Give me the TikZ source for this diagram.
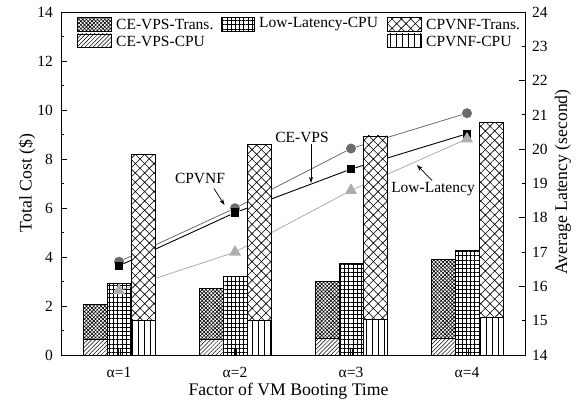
\documentclass[tikz,border=0pt]{standalone}
\usepackage{fontspec}
\setmainfont{Liberation Serif}
\usetikzlibrary{patterns.meta,arrows.meta,shapes.geometric}

\definecolor{circgray}{gray}{0.42}
\definecolor{trigray}{gray}{0.68}

\tikzset{
  txt/.style={font=\fontsize{15.5}{18}\selectfont, inner sep=0pt},
  title/.style={font=\fontsize{17.7}{20}\selectfont, inner sep=0pt},
  barline/.style={draw=black, line width=0.9pt},
  cevpstrans/.style={preaction={fill=white}, pattern={Hatch[angle=45,distance=2.6pt,line width=0.6pt]}},
  cevpscpu/.style={preaction={fill=white}, pattern={Lines[angle=45,distance=2.9pt,line width=0.5pt]}},
  llcpu/.style={preaction={fill=white}, pattern={Hatch[angle=0,distance=4.2pt,line width=0.5pt]}},
  cpvnftrans/.style={preaction={fill=white}, pattern={Hatch[angle=45,distance=6.6pt,line width=0.6pt]}},
  cpvnfcpu/.style={preaction={fill=white}, pattern={Lines[angle=90,distance=6pt,line width=0.6pt]}},
  circmark/.style={circle, fill=circgray, minimum size=10pt, inner sep=0pt},
  sqmark/.style={rectangle, fill=black, minimum size=8.5pt, inner sep=0pt},
  trimark/.style={regular polygon, regular polygon sides=3, fill=trigray, minimum size=14pt, inner sep=0pt},
  circline/.style={draw=circgray, line width=0.8pt},
  sqline/.style={draw=black, line width=0.9pt},
  triline/.style={draw=trigray, line width=0.8pt},
  annarrow/.style={draw=black, line width=0.7pt, -{Stealth[length=6pt,width=4pt]}},
  tickline/.style={draw=black, line width=0.8pt}
}

\begin{document}
\begin{tikzpicture}[x=1pt,y=-1pt]
\useasboundingbox (0,0) rectangle (581,411);

% stacked bars for CE-VPS and Low-Latency
\foreach \c/\a/\b/\l in {119/2.07/0.63/2.90, 235/2.72/0.64/3.22, 351/3.00/0.67/3.74, 467/3.90/0.69/4.27}{
  \draw[barline,cevpscpu] (\c-36,355) rectangle (\c-12,{355-24.5*\b});
  \draw[barline,cevpstrans] (\c-36,{355-24.5*\b}) rectangle (\c-12,{355-24.5*\a});
  \draw[barline,llcpu] (\c-12,355) rectangle (\c+12,{355-24.5*\l});
  \draw[line width=0.5pt] (\c-0.8,348) -- (\c-0.8,355) (\c+0.8,348) -- (\c+0.8,355);
}

% latency markers
\node[circmark] (ci1) at (119,{355-34.3*(16.72-14)}) {};
\node[circmark] (ci2) at (235,{355-34.3*(18.28-14)}) {};
\node[circmark] (ci3) at (351,{355-34.3*(20.02-14)}) {};
\node[circmark] (ci4) at (467,{355-34.3*(21.05-14)}) {};
\node[sqmark] (sq1) at (119,{355-34.3*(16.60-14)}) {};
\node[sqmark] (sq2) at (235,{355-34.3*(18.15-14)}) {};
\node[sqmark] (sq3) at (351,{355-34.3*(19.42-14)}) {};
\node[sqmark] (sq4) at (467,{355-34.3*(20.45-14)}) {};
\node[trimark] (tr1) at (119,{355-34.3*(15.88-14)}) {};
\node[trimark] (tr2) at (235,{355-34.3*(17.00-14)}) {};
\node[trimark] (tr3) at (351,{355-34.3*(18.80-14)}) {};
\node[trimark] (tr4) at (467,{355-34.3*(20.30-14)}) {};

% latency lines
\draw[circline] (ci1) -- (ci2) -- (ci3) -- (ci4);
\draw[sqline] (sq1) -- (sq2) -- (sq3) -- (sq4);
\draw[triline] (tr1) -- (tr2) -- (tr3) -- (tr4);

% CPVNF bars on top
\foreach \c/\t/\u in {119/8.20/1.39, 235/8.61/1.41, 351/8.94/1.47, 467/9.50/1.52}{
  \draw[barline,cpvnfcpu] (\c+12,355) rectangle (\c+36,{355-24.5*\u});
  \draw[barline,cpvnftrans] (\c+12,{355-24.5*\u}) rectangle (\c+36,{355-24.5*\t});
}

% frame
\draw[line width=0.9pt] (61,12) rectangle (525,355);

% left axis ticks and labels
\foreach \v in {1,...,13}{
  \pgfmathsetmacro{\len}{ifthenelse(mod(\v,2)==0,6,3)}
  \draw[tickline] (61,{355-24.5*\v}) -- ++(\len,0);
}
\foreach \v in {0,2,...,14}{
  \node[txt, anchor=east] (ly\v) at (53,{355-24.5*\v}) {\v};
}
% right axis ticks and labels
\foreach \v in {15,...,23}{
  \pgfmathsetmacro{\len}{ifthenelse(mod(\v,2)==0,6,3)}
  \draw[tickline] (525,{355-34.3*(\v-14)}) -- ++(-\len,0);
}
\foreach \v in {14,...,24}{
  \node[txt, anchor=west] (ry\v) at (532,{355-34.3*(\v-14)}) {\v};
}

% x tick labels
\node[txt] (xa1) at (119,372) {α=1};
\node[txt] (xa2) at (235,372) {α=2};
\node[txt] (xa3) at (351,372) {α=3};
\node[txt] (xa4) at (467,372) {α=4};

% axis titles
\node[title] (xtitle) at (288.5,391) {Factor of VM Booting Time};
\node[title, rotate=90] (ytitle) at (27,183) {Total Cost (\$)};
\node[title, rotate=90] (y2title) at (563,182) {Average Latency (second)};

% legend
\draw[barline,cevpstrans] (77,17.5) rectangle (111,31);
\node[txt, anchor=west] (lg1) at (116,24.5) {CE-VPS-Trans.};
\draw[barline,cevpscpu] (77,34) rectangle (111,47.5);
\node[txt, anchor=west] (lg2) at (116,41) {CE-VPS-CPU};
\draw[barline,llcpu] (221,17.5) rectangle (254,31);
\node[txt, anchor=west] (lg3) at (259,24.5) {Low-Latency-CPU};
\draw[barline,cpvnftrans] (387,17.5) rectangle (421,31);
\node[txt, anchor=west] (lg4) at (426,24.5) {CPVNF-Trans.};
\draw[barline,cpvnfcpu] (387,34) rectangle (421,47.5);
\node[txt, anchor=west] (lg5) at (426,41) {CPVNF-CPU};

% line annotations
\node[txt] (cpvnflab) at (200,178) {CPVNF};
\coordinate (cpvnftip) at (224.5,205);
\draw[annarrow] (214,188.5) -- (cpvnftip);
\node[txt] (cevpslab) at (302,137) {CE-VPS};
\coordinate (cevpstip) at (311,183);
\draw[annarrow] (311,144) -- (cevpstip);
\node[txt] (lllab) at (433,189) {Low-Latency};
\coordinate (lltip) at (417,165);
\draw[annarrow] (432,180.5) -- (lltip);
\end{tikzpicture}
\end{document}
